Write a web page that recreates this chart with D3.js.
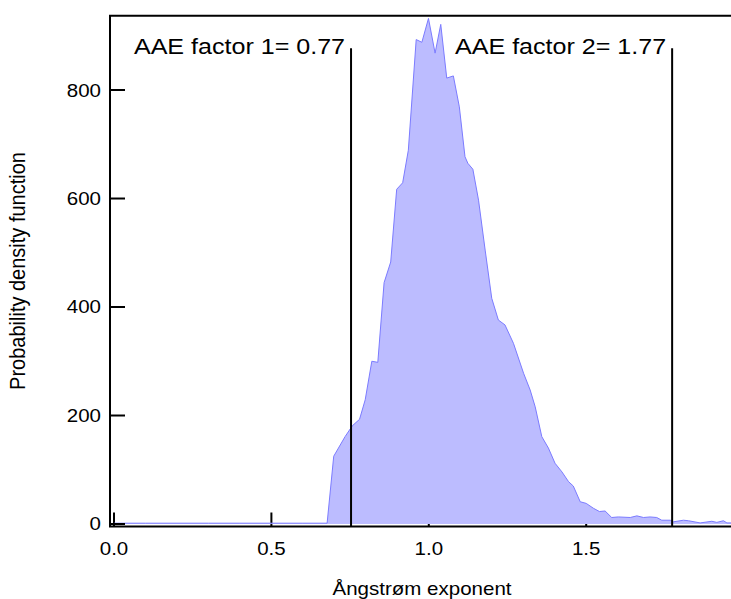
<!DOCTYPE html>
<html>
<head>
<meta charset="utf-8">
<script src="https://cdn.jsdelivr.net/npm/d3@7"></script>
<style>
  body { margin: 0; background: #fff; }
  text { font-family: "Liberation Sans", Arial, sans-serif; fill: #000; }
</style>
</head>
<body>
<svg id="chart" width="731" height="599"></svg>
<script>
// pdf of the Angstrom exponent
var pdfX = [0.00, 0.10, 0.20, 0.30, 0.40, 0.50, 0.60, 0.677, 0.698, 0.734, 0.757, 0.780, 0.798,
  0.819, 0.838, 0.858, 0.879, 0.898, 0.917, 0.935, 0.960, 0.978, 0.999, 1.020, 1.038, 1.057,
  1.078, 1.097, 1.115, 1.124, 1.140, 1.158, 1.179, 1.200, 1.221, 1.242, 1.269, 1.301, 1.322,
  1.338, 1.359, 1.380, 1.401, 1.423, 1.444, 1.459, 1.481, 1.500, 1.523, 1.542, 1.560, 1.581,
  1.602, 1.640, 1.661, 1.682, 1.703, 1.724, 1.740, 1.767, 1.777, 1.809, 1.825, 1.862, 1.899,
  1.915, 1.936, 1.947, 1.960];
var pdfY = [1.5, 1.5, 1.5, 1.5, 1.5, 1.5, 1.5, 1.5, 125, 161, 181, 193, 229,
  300, 298, 445, 483, 617, 629, 689, 893, 888, 932, 868, 921, 822,
  826, 769, 677, 665, 654, 597, 505, 416, 376, 367, 333, 278, 247,
  216, 161, 140, 112, 96, 78, 70, 41, 38, 29, 23, 24, 12,
  13, 12, 15, 12, 13, 12, 7, 7, 4, 7, 6, 2, 5,
  3, 6, 2, 2];

var xTicks = [0.0, 0.5, 1.0, 1.5];
var yTicks = [0, 200, 400, 600, 800];

// AAE marker lines and their labels
var aaeX = [0.753, 1.773];
var aaeLabels = ["AAE factor 1= 0.77", "AAE factor 2= 1.77"];
var aaeTop = 877;

var svg = d3.select("#chart");
var plotL = 110, plotR = 731, plotT = 15.7, plotB = 526.5;
var stretch = 1.14; // text looks a bit wide in the original

var x = d3.scaleLinear().domain([-0.0127, 1.96]).range([plotL, plotR]);
var y = d3.scaleLinear().domain([-4.6, 937]).range([plotB, plotT]);

var data = pdfX.map(function (d, i) { return { x: d, y: pdfY[i] }; });

// x ticks go under the fill
svg.selectAll(".xtick")
  .data(xTicks)
  .enter().append("line")
  .attr("class", "xtick")
  .attr("x1", function (d) { return x(d); })
  .attr("x2", function (d) { return x(d); })
  .attr("y1", plotB)
  .attr("y2", plotB - 14)
  .attr("stroke", "#000")
  .attr("stroke-width", 2);

var area = d3.area()
  .x(function (d) { return x(d.x); })
  .y0(y(0))
  .y1(function (d) { return y(d.y); });

var line = d3.line()
  .x(function (d) { return x(d.x); })
  .y(function (d) { return y(d.y); });

svg.append("path")
  .datum(data)
  .attr("d", area)
  .attr("fill", "#bcbcff");

svg.append("path")
  .datum(data)
  .attr("d", line)
  .attr("fill", "none")
  .attr("stroke", "#7b7bff")
  .attr("stroke-width", 1);

// y ticks
svg.selectAll(".ytick")
  .data(yTicks)
  .enter().append("line")
  .attr("class", "ytick")
  .attr("x1", plotL)
  .attr("x2", plotL + 15)
  .attr("y1", function (d) { return y(d); })
  .attr("y2", function (d) { return y(d); })
  .attr("stroke", "#000")
  .attr("stroke-width", 2);

// frame (no right side)
svg.append("path")
  .attr("d", "M" + plotR + "," + plotT + "H" + plotL + "V" + plotB + "H" + plotR)
  .attr("fill", "none")
  .attr("stroke", "#000")
  .attr("stroke-width", 2);

// tick labels
svg.selectAll(".ylab")
  .data(yTicks)
  .enter().append("text")
  .attr("class", "ylab")
  .attr("transform", function (d) { return "translate(101," + y(d) + ") scale(" + stretch + ",1)"; })
  .attr("text-anchor", "end")
  .attr("dy", "0.36em")
  .style("font-size", "18px")
  .text(function (d) { return d; });

svg.selectAll(".xlab")
  .data(xTicks)
  .enter().append("text")
  .attr("class", "xlab")
  .attr("transform", function (d) { return "translate(" + x(d) + ",555) scale(" + stretch + ",1)"; })
  .attr("text-anchor", "middle")
  .style("font-size", "18px")
  .text(function (d) { return d.toFixed(1); });

// AAE lines
svg.selectAll(".aae")
  .data(aaeX)
  .enter().append("line")
  .attr("class", "aae")
  .attr("x1", function (d) { return x(d); })
  .attr("x2", function (d) { return x(d); })
  .attr("y1", y(0) + 2)
  .attr("y2", y(aaeTop))
  .attr("stroke", "#000")
  .attr("stroke-width", 2);

svg.selectAll(".aaelab")
  .data(aaeX)
  .enter().append("text")
  .attr("class", "aaelab")
  .attr("transform", function (d) { return "translate(" + (x(d) - 6) + ",54) scale(" + stretch + ",1)"; })
  .attr("text-anchor", "end")
  .style("font-size", "22px")
  .text(function (d, i) { return aaeLabels[i]; });

// axis titles
svg.append("text")
  .attr("transform", "translate(422,595) scale(" + stretch + ",1)")
  .attr("text-anchor", "middle")
  .style("font-size", "18px")
  .text("Ångstrøm exponent");

svg.append("text")
  .attr("transform", "translate(25,271) scale(" + stretch + ",1) rotate(-90)")
  .attr("text-anchor", "middle")
  .style("font-size", "20px")
  .text("Probability density function");
</script>
</body>
</html>
